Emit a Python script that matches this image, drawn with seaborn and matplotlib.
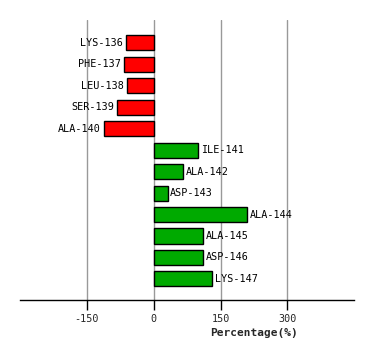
import matplotlib
matplotlib.use("Agg")
import matplotlib.pyplot as plt
import seaborn as sns
import pandas as pd
import numpy as np

residues = ["LYS-136", "PHE-137", "LEU-138", "SER-139", "ALA-140", "ILE-141",
            "ALA-142", "ASP-143", "ALA-144", "ALA-145", "ASP-146", "LYS-147"]
values = [-63, -67, -61, -83, -112, 100, 65, 31, 210, 111, 111, 131]
xticks = [-150, 0, 150, 300]

df = pd.DataFrame({"residue": residues, "value": values})
df["sign"] = np.where(df["value"] < 0, "neg", "pos")

sns.set_style("white")
plt.rcParams["font.family"] = ["DejaVu Sans Mono", "DejaVu Sans"]

fig = plt.figure(figsize=(3.74, 3.60), dpi=100)
ax = fig.add_axes([20/374, 60/360, 334.3/374, 280/360])

sns.barplot(data=df, x="value", y="residue", hue="sign", order=residues,
            palette={"neg": "#FF0000", "pos": "#00AA00"}, dodge=False,
            saturation=1, width=0.7, edgecolor="black", linewidth=1.0,
            legend=False, orient="h", ax=ax, zorder=3)

for i, (r, v) in enumerate(zip(residues, values)):
    if v < 0:
        ax.text(v - 6, i, r, ha="right", va="center", fontsize=7.3, color="black")
    else:
        ax.text(v + 6, i, r, ha="left", va="center", fontsize=7.3, color="black")

ax.set_xlim(-300, 450)
ax.set_ylim(11.98, -1.06)
ax.set_xticks(xticks)
ax.set_xticklabels([str(t) for t in xticks], fontsize=7.3)
ax.set_yticks([])
ax.set_ylabel("")
ax.xaxis.grid(True, color="#999999", linewidth=1.0, zorder=0)
ax.set_axisbelow(True)
for s in ["top", "right", "left"]:
    ax.spines[s].set_visible(False)
ax.spines["bottom"].set_color("black")
ax.spines["bottom"].set_linewidth(1.0)
ax.tick_params(axis="x", direction="out", length=7, width=1, color="black", pad=3, bottom=True)
ax.set_xlabel("Percentage(%)", fontsize=8, fontweight="bold")
ax.xaxis.set_label_coords(0.70, -0.10)

fig.savefig("out.png", dpi=100)
